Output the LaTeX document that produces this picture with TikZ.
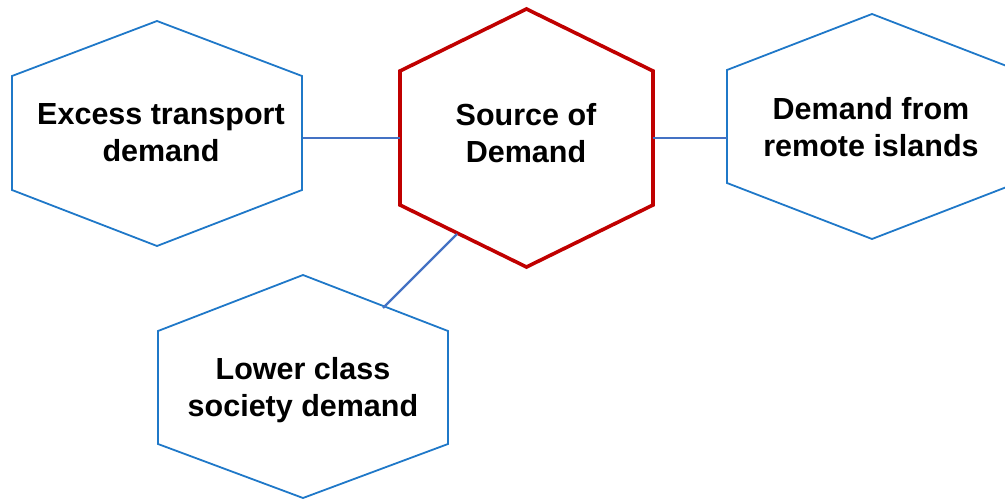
\documentclass[tikz,border=0pt]{standalone}
\usepackage{fontspec}
\setmainfont{Liberation Sans}
\begin{document}
\begin{tikzpicture}[x=1pt,y=-1pt,
  hexblue/.style={draw=hexline,line width=1.8pt,line join=miter},
  hexred/.style={draw=hexredline,line width=3.6pt,line join=miter},
  link/.style={draw=linkline,line width=2.2pt},
  label/.style={align=center,font=\fontsize{30.5}{37}\selectfont\bfseries,inner sep=0pt}]
\definecolor{hexline}{HTML}{1F78C8}
\definecolor{hexredline}{HTML}{C00000}
\definecolor{linkline}{HTML}{4472C4}
\useasboundingbox (0,0) rectangle (1005,500);
\clip (0,0) rectangle (1005,500);

% hexagon outlines
\draw[hexblue] (12,76) -- (157,21) -- (302,76) -- (302,190) -- (157,246) -- (12,190) -- cycle;
\draw[hexred] (400,71) -- (526.5,9) -- (653,71) -- (653,205) -- (526.5,267) -- (400,205) -- cycle;
\draw[hexblue] (727,70) -- (872,14) -- (1017,70) -- (1017,183) -- (872,239) -- (727,183) -- cycle;
\draw[hexblue] (158,331) -- (303,275) -- (448,331) -- (448,444) -- (303,498) -- (158,444) -- cycle;

% labels
\node[label] (excess) at (161,133) {Excess transport\\demand};
\node[label] (source) at (526,133) {Source of\\Demand};
\node[label] (remote) at (871,127) {Demand from\\remote islands};
\node[label] (lower)  at (303,390) {Lower class\\society demand};

% attachment points on the outlines
\coordinate (excess-e) at (303,138);
\coordinate (source-w) at (400,138);
\coordinate (source-e) at (653,138);
\coordinate (remote-w) at (727,138);
\coordinate (source-sw) at (457,234);
\coordinate (lower-ne) at (383,308);

% connectors
\draw[link] (excess-e) -- (source-w);
\draw[link] (source-e) -- (remote-w);
\draw[link] (source-sw) -- (lower-ne);
\end{tikzpicture}
\end{document}
